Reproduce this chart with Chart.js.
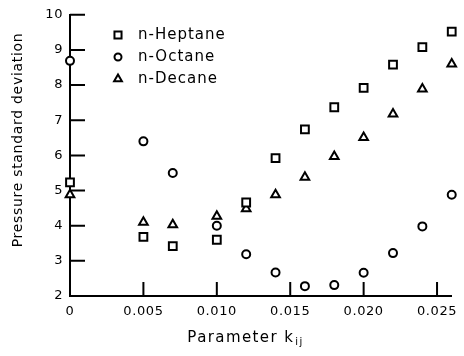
<!DOCTYPE html>
<html><head><meta charset="utf-8">
<script src="https://cdn.jsdelivr.net/npm/chart.js@4/dist/chart.umd.min.js"></script>
<style>html,body{margin:0;padding:0;background:#fff}#wrap{width:464px;height:356px}</style>
</head><body><div id="wrap"><canvas id="c" width="464" height="356"></canvas></div>
<script>
const kij = [0, 0.005, 0.007, 0.010, 0.012, 0.014, 0.016, 0.018, 0.020, 0.022, 0.024, 0.026];
const heptane = [5.23, 3.68, 3.42, 3.60, 4.66, 5.92, 6.74, 7.37, 7.92, 8.58, 9.08, 9.52];
const octane  = [8.69, 6.40, 5.50, 4.00, 3.19, 2.67, 2.28, 2.31, 2.66, 3.22, 3.98, 4.88];
const decane  = [4.88, 4.10, 4.03, 4.27, 4.48, 4.88, 5.38, 5.97, 6.51, 7.18, 7.89, 8.60];
const seriesNames = ['n-Heptane', 'n-Octane', 'n-Decane'];
const xTicks = [0, 0.005, 0.010, 0.015, 0.020, 0.025];
const yTicks = [2, 3, 4, 5, 6, 7, 8, 9, 10];
const xTitle = 'Parameter k';
const xTitleSub = 'ij';
const yTitle = 'Pressure standard deviation';

const pts = (ys) => kij.map((x, i) => ({x, y: ys[i]}));
const mk = (label, ys, style, r) => ({
  label, data: pts(ys), pointStyle: style, pointRadius: r, pointHoverRadius: r,
  pointBorderColor: '#000', pointBackgroundColor: '#fff', pointBorderWidth: 2, showLine: false, clip: false
});

const FONT = '"DejaVu Sans", sans-serif';

const deco = {
  id: 'deco',
  beforeDraw(chart) { chart.ctx.letterSpacing = '0.6px'; },
  afterDraw(chart) {
    const ctx = chart.ctx, xs = chart.scales.x, ys = chart.scales.y, a = chart.chartArea;
    ctx.save();
    ctx.strokeStyle = '#000'; ctx.lineWidth = 2;
    ctx.beginPath();
    yTicks.forEach(v => { const p = ys.getPixelForValue(v); ctx.moveTo(a.left, p); ctx.lineTo(a.left + 15, p); });
    xTicks.forEach(v => { if (v === 0) return; const p = xs.getPixelForValue(v); ctx.moveTo(p, a.bottom); ctx.lineTo(p, a.bottom - 14); });
    ctx.stroke();
    // axis titles
    ctx.fillStyle = '#000';
    ctx.letterSpacing = '1.4px';
    ctx.font = '15px ' + FONT;
    ctx.textBaseline = 'alphabetic';
    const w1 = ctx.measureText(xTitle).width;
    ctx.font = '10px ' + FONT;
    const w2 = ctx.measureText(xTitleSub).width;
    const x0 = 245 - (w1 + w2) / 2;
    ctx.font = '15px ' + FONT; ctx.textAlign = 'left';
    ctx.fillText(xTitle, x0, 342);
    ctx.font = '10px ' + FONT;
    ctx.fillText(xTitleSub, x0 + w1 + 1, 345);
    ctx.letterSpacing = '0.7px';
    ctx.font = '14px ' + FONT;
    ctx.translate(18, 140); ctx.rotate(-Math.PI / 2);
    ctx.textAlign = 'center'; ctx.textBaseline = 'middle';
    ctx.fillText(yTitle, 0, 0);
    ctx.setTransform(1, 0, 0, 1, 0, 0);
    // legend
    ctx.letterSpacing = '1px';
    ctx.font = '15px ' + FONT; ctx.textAlign = 'left'; ctx.textBaseline = 'middle';
    const rows = [35, 57, 79];
    chart.data.datasets.forEach((ds, i) => {
      const y = rows[i];
      const o = {pointStyle: ds.pointStyle, radius: ds.pointRadius - 0.5, borderWidth: 2, rotation: 0};
      ctx.strokeStyle = '#000'; ctx.fillStyle = '#fff'; ctx.lineWidth = 2;
      Chart.helpers.drawPoint(ctx, o, 118, y);
      ctx.fillStyle = '#000';
      ctx.fillText(ds.label, 138, y);
    });
    ctx.restore();
  }
};

new Chart(document.getElementById('c'), {
  type: 'scatter',
  data: { datasets: [
    mk(seriesNames[0], heptane, 'rect', 5.5),
    mk(seriesNames[1], octane, 'circle', 4),
    mk(seriesNames[2], decane, 'triangle', 5)
  ]},
  options: {
    responsive: false, animation: false, devicePixelRatio: 1,
    layout: { padding: { top: 13, right: 9, left: 0, bottom: 0 } },
    plugins: { legend: { display: false }, tooltip: { enabled: false } },
    scales: {
      x: {
        type: 'linear', min: 0, max: 0.026,
        afterBuildTicks: s => { s.ticks = xTicks.map(v => ({value: v})); },
        afterFit: s => { s.height = 60; },
        grid: { display: false, drawTicks: false },
        border: { display: true, color: '#000', width: 2 },
        ticks: { color: '#000', padding: 8, maxRotation: 0, autoSkip: false,
          font: { family: FONT, size: 13 },
          callback: v => v === 0 ? '0' : v.toFixed(3) }
      },
      y: {
        type: 'linear', min: 2, max: 10,
        afterBuildTicks: s => { s.ticks = yTicks.map(v => ({value: v})); },
        afterFit: s => { s.width = 70; },
        grid: { display: false, drawTicks: false },
        border: { display: true, color: '#000', width: 2 },
        ticks: { color: '#000', padding: 7, autoSkip: false, font: { family: FONT, size: 13 } }
      }
    }
  },
  plugins: [deco]
});
</script>
</body></html>
